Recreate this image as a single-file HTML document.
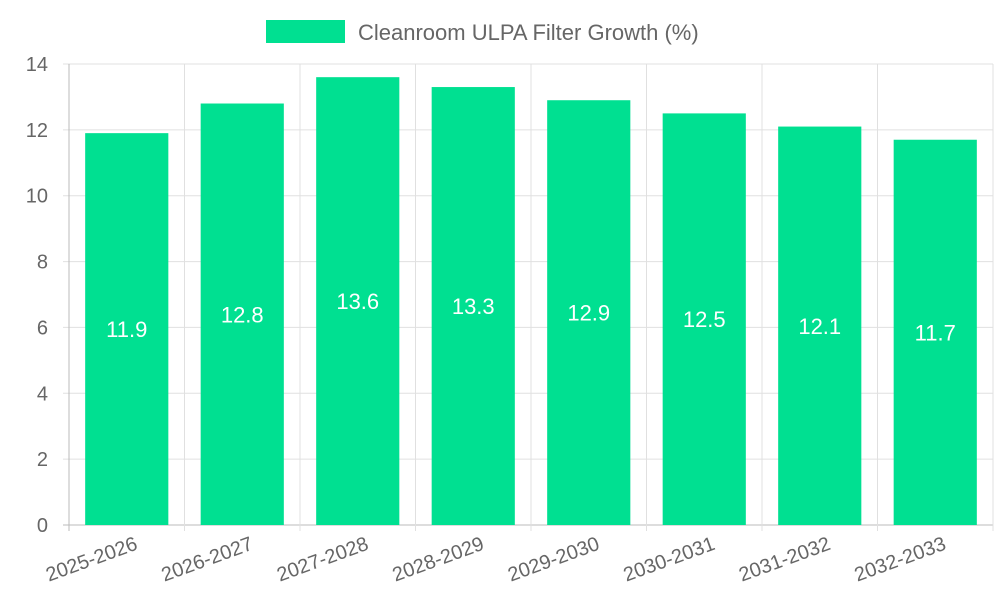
<!DOCTYPE html>
<html><head><meta charset="utf-8"><style>
body{margin:0;background:#fff;font-family:"Liberation Sans",sans-serif;}
svg text{font-family:"Liberation Sans",sans-serif;}
</style></head><body>
<svg id="c" width="1000" height="600">
<g>
<rect x="266" y="20" width="79" height="23" fill="#00e091"/>
<text x="358" y="40" font-size="22" fill="#666">Cleanroom ULPA Filter Growth (%)</text>
</g>
</svg>
<script>
const categories=["2025-2026","2026-2027","2027-2028","2028-2029","2029-2030","2030-2031","2031-2032","2032-2033"];
const values=[11.9,12.8,13.6,13.3,12.9,12.5,12.1,11.7];
const yTicks=[0,2,4,6,8,10,12,14];
const svg=document.getElementById('c');
const NS='http://www.w3.org/2000/svg';
const L=69,R=993,T=64,B=525,yMax=14;
const y=v=>B-(v/yMax)*(B-T);
const bw=(R-L)/categories.length;
const x=i=>L+i*bw;
function mk(tag,attrs){const e=document.createElementNS(NS,tag);for(const k in attrs)e.setAttribute(k,attrs[k]);svg.appendChild(e);return e;}
yTicks.forEach(t=>{
 const g=mk('line',{x1:L-6,x2:R,y1:y(t),y2:y(t),stroke:t===0?'#bbb':'#e0e0e0','stroke-width':1});
 
 
 const tx=mk('text',{x:48,y:y(t)+7,'font-size':20,fill:'#666','text-anchor':'end'});
 tx.textContent=t;
 
 
});
for(let i=0;i<=categories.length;i++){
 const g=mk('line',{x1:x(i),x2:x(i),y1:T,y2:B+6,stroke:i===0?'#bbb':'#e0e0e0','stroke-width':1});
 
 
}
categories.forEach((c,i)=>{
 const cx=x(i)+bw/2, w=bw*0.72;
 const r=mk('rect',{x:cx-w/2,y:y(values[i]),width:w,height:B-y(values[i]),fill:'#00e091'});
 
 
 const vt=mk('text',{x:cx,y:(y(values[i])+B)/2+8,'font-size':22,fill:'#fff','text-anchor':'middle'});
 vt.textContent=values[i];
 
 
 const lt=mk('text',{x:cx+12,y:B+24,'font-size':20,fill:'#666','text-anchor':'end',transform:`rotate(-20 ${cx+12} ${B+24})`});
 lt.textContent=c;
 
 
});
</script>
</body></html>
